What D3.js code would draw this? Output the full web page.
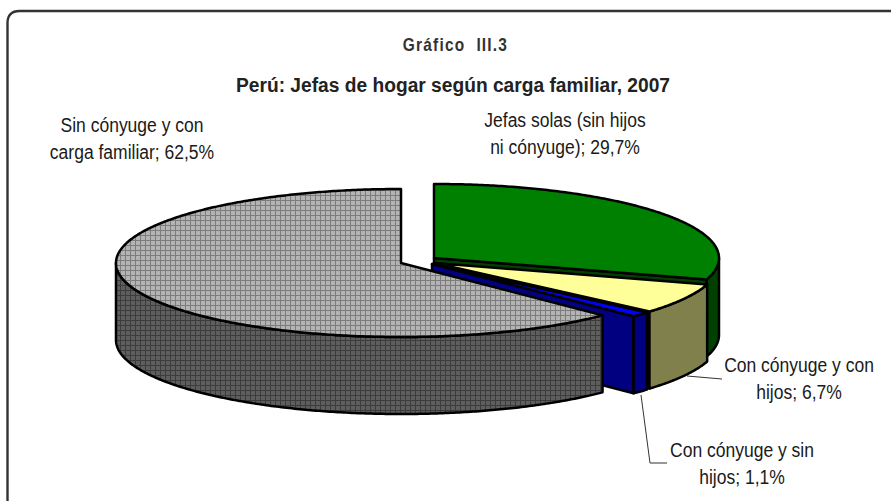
<!DOCTYPE html>
<html><head><meta charset="utf-8">
<script src="https://cdn.jsdelivr.net/npm/d3@7/dist/d3.min.js"></script>
<style>html,body{margin:0;padding:0;background:#fff}svg{display:block}text{fill:#1a1a1a;font-family:"Liberation Sans",Arial,sans-serif}</style>
</head><body><svg id="c" width="891" height="501"></svg>
<script>
const categories=["Jefas solas (sin hijos ni cónyuge)","Con cónyuge y con hijos","Con cónyuge y sin hijos","Sin cónyuge y con carga familiar"];
const shares=[29.7,6.7,1.1,62.5];
const shareLabels=["29,7%","6,7%","1,1%","62,5%"];
const topColors=["#008000","#ffff99","#0000ff","url(#gridLight)"];
const wallColors=["#004000","#80804d","#000080","url(#gridDark)"];
const centreX=[434,434.5,432,401];
const centreY=[258,263,264,263];
const labelLines=[["Jefas solas (sin hijos","ni cónyuge); 29,7%"],["Con cónyuge y con","hijos; 6,7%"],["Con cónyuge y sin","hijos; 1,1%"],["Sin cónyuge y con","carga familiar; 62,5%"]];
const labelX=[565,799,742,132];
const labelY=[126.5,372,457,131.5];
const RX=285,RY=74,DEPTH=77;

const svg=d3.select("#c");
const defs=svg.append("defs");
function grid(id,bg,line){
  const p=defs.append("pattern").attr("id",id).attr("patternUnits","userSpaceOnUse").attr("width",5).attr("height",5);
  p.append("rect").attr("width",5).attr("height",5).attr("fill",bg);
  p.append("rect").attr("x",0).attr("y",0).attr("width",1).attr("height",5).attr("fill",line);
  p.append("rect").attr("x",0).attr("y",0).attr("width",5).attr("height",1).attr("fill",line);
}
grid("gridLight","#b4b4b4","#7c7c7c");
grid("gridDark","#5e5e5e","#3c3c3c");

const line=d3.line();
svg.append("path").attr("fill","none").attr("stroke","#333").attr("stroke-width",2.4)
  .attr("d","M7.5,501 V23 Q7.5,11 19.5,11 H891");

const arcs=d3.pie().sort(null).value(d=>d).startAngle(0).endAngle(2*Math.PI)(shares);
const px=d3.scaleLinear().domain([-1,1]).range([-RX,RX]);
const py=d3.scaleLinear().domain([-1,1]).range([-RY,RY]);
const pt=(i,a,dz=0)=>[centreX[i]+px(Math.sin(a)),centreY[i]-py(Math.cos(a))+dz];
const apex=(i,dz=0)=>[centreX[i],centreY[i]+dz];
const arcPts=(i,a0,a1,dz=0)=>{
  const n=Math.max(2,Math.ceil((a1-a0)/0.01));
  return d3.range(n+1).map(k=>pt(i,a0+(a1-a0)*k/n,dz));
};
const stroke=s=>s.attr("stroke","#000").attr("stroke-width",2.5).attr("stroke-linejoin","round");
const g=svg.append("g");
arcs.forEach((d,i)=>{
  const a0=d.startAngle,a1=d.endAngle;
  const wallFill=wallColors[i];
  if(i<3){
    stroke(g.append("path").attr("d",line([apex(i),pt(i,a1),pt(i,a1,DEPTH),apex(i,DEPTH)])+"Z").attr("fill",i==1?"#000":wallFill));
  }
  const w0=Math.max(a0,Math.PI/2),w1=Math.min(a1,3*Math.PI/2);
  if(w1>w0){
    const top=arcPts(i,w0,w1),bot=arcPts(i,w0,w1,DEPTH).reverse();
    stroke(g.append("path").attr("d",line(top.concat(bot))+"Z").attr("fill",wallFill));
  }
  stroke(g.append("path").attr("d",line([apex(i)].concat(arcPts(i,a0,a1)))+"Z").attr("fill",topColors[i]));
});

const texts=svg.append("g");
function put(x,y,sx,size,weight,str,fill,ls){
  const t=texts.append("text").attr("transform",`translate(${x},${y}) scale(${sx},1)`)
    .attr("text-anchor","middle").attr("font-size",size).attr("font-weight",weight).attr("xml:space","preserve").text(str);
  if(fill)t.style("fill",fill);
  if(ls)t.style("letter-spacing",ls+"px");
}
put(455.5,51,0.86,18,700,"Gráfico  III.3","#333",1.4);
put(453,91.5,0.914,21,700,"Perú: Jefas de hogar según carga familiar, 2007","#222");
labelLines.forEach((ls,i)=>ls.forEach((t,k)=>put(labelX[i],labelY[i]+k*27,0.875,20,400,t)));

const leaderX=[[687,722],[641,650,667]];
const leaderY=[[376,379],[395,463,463]];
leaderX.forEach((xs,i)=>{
  svg.append("path").attr("fill","none").attr("stroke","#333").attr("stroke-width",1)
    .attr("d",line(xs.map((x,k)=>[x,leaderY[i][k]])));
});
</script></body></html>
